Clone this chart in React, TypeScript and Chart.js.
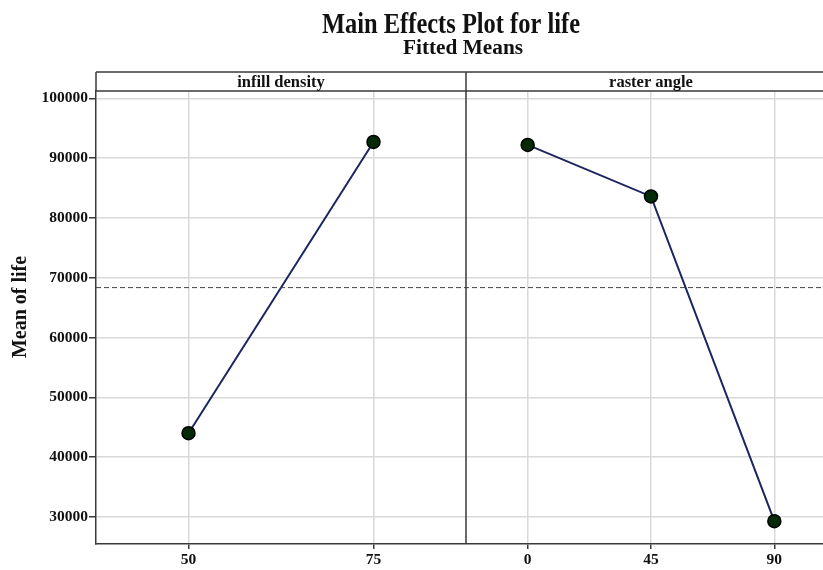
import React, { useEffect, useRef } from "react";
import { Chart, registerables } from "chart.js";

Chart.register(...registerables);

const titleText = "Main Effects Plot for life";
const subtitleText = "Fitted Means";
const yAxisLabel = "Mean of life";
const panelNames = ["infill density", "raster angle"];
const infillLevels = ["50", "75"];
const infillMeans = [44000, 92700];
const rasterLevels = ["0", "45", "90"];
const rasterMeans = [92200, 83600, 29300];
const overallMean = 68350;
const yTicks = [30000, 40000, 50000, 60000, 70000, 80000, 90000, 100000];
const yMin = 25480;
const yMax = 101220;

const FONT = "'Liberation Serif', 'Times New Roman', serif";
const LINE_COLOR = "#1c2560";
const POINT_FILL = "#042a08";
const FRAME = "#3a3a3a";

// position of level i (of n) inside panel p, panels are unit-wide
const pos = (p: number, i: number, n: number) => p + (i + 0.5) / n;

const levelGroups = [infillLevels, rasterLevels];
const tickPositions = levelGroups.flatMap((g, p) => g.map((_, i) => pos(p, i, g.length)));
const tickLabels = levelGroups.flat();

function fitText(ctx: CanvasRenderingContext2D, text: string, cx: number, y: number, width: number) {
  const w = ctx.measureText(text).width;
  ctx.save();
  ctx.translate(cx, y);
  ctx.scale(width / w, 1);
  ctx.fillText(text, 0, 0);
  ctx.restore();
}

const panelPlugin = {
  id: "panelDecor",
  afterDraw(chart: any) {
    const { ctx, chartArea } = chart;
    const xs = chart.scales.x;
    const left = chartArea.left;
    const right = chartArea.right;
    const top = chartArea.top;
    const bottom = chartArea.bottom;
    const headerTop = top - 19;
    ctx.save();
    ctx.strokeStyle = FRAME;
    ctx.lineWidth = 1.5;
    ctx.beginPath();
    ctx.moveTo(left, headerTop);
    ctx.lineTo(right, headerTop);
    ctx.moveTo(left, top);
    ctx.lineTo(right, top);
    ctx.moveTo(left, headerTop);
    ctx.lineTo(left, top);
    const divX = xs.getPixelForValue(1);
    ctx.moveTo(divX, headerTop);
    ctx.lineTo(divX, bottom);
    ctx.stroke();

    ctx.fillStyle = "#111";
    ctx.textAlign = "center";
    ctx.textBaseline = "alphabetic";
    ctx.font = `bold 16.5px ${FONT}`;
    panelNames.forEach((name, p) => {
      const cx = (xs.getPixelForValue(p) + xs.getPixelForValue(p + 1)) / 2;
      ctx.fillText(name, cx, top - 4.5);
    });

    ctx.font = `bold 29px ${FONT}`;
    fitText(ctx, titleText, 451, 33, 258);
    ctx.font = `bold 20px ${FONT}`;
    fitText(ctx, subtitleText, 463, 54, 120);

    ctx.translate(21, 307);
    ctx.rotate(-Math.PI / 2);
    ctx.textBaseline = "middle";
    ctx.font = `bold 20px ${FONT}`;
    ctx.fillText(yAxisLabel, 0, 0);
    ctx.restore();
  },
};

export default function App() {
  const ref = useRef<HTMLCanvasElement | null>(null);
  useEffect(() => {
    if (!ref.current) return;
    const pointStyle = {
      pointRadius: 6.5,
      pointHoverRadius: 6.5,
      pointBackgroundColor: POINT_FILL,
      pointBorderColor: "#000",
      pointBorderWidth: 1.5,
      borderColor: LINE_COLOR,
      borderWidth: 2,
      showLine: true,
    };
    const chart = new Chart(ref.current, {
      type: "scatter",
      data: {
        datasets: [
          {
            label: "mean",
            data: [
              { x: 0, y: overallMean },
              { x: 2, y: overallMean },
            ],
            showLine: true,
            borderColor: "#444",
            borderWidth: 1,
            borderDash: [5, 3],
            pointRadius: 0,
          },
          {
            label: panelNames[0],
            data: infillLevels.map((_, i) => ({ x: pos(0, i, infillLevels.length), y: infillMeans[i] })),
            ...pointStyle,
          },
          {
            label: panelNames[1],
            data: rasterLevels.map((_, i) => ({ x: pos(1, i, rasterLevels.length), y: rasterMeans[i] })),
            ...pointStyle,
          },
        ],
      },
      options: {
        responsive: false,
        animation: false,
        events: [],
        layout: { padding: { top: 91, right: 4, left: 0, bottom: 0 } },
        plugins: {
          legend: { display: false },
          tooltip: { enabled: false },
          title: { display: false },
        },
        scales: {
          x: {
            type: "linear",
            min: 0,
            max: 2,
            afterBuildTicks: (axis: any) => {
              axis.ticks = tickPositions.map((v) => ({ value: v }));
            },
            afterFit: (scale: any) => {
              scale.height = 26;
            },
            ticks: {
              autoSkip: false,
              maxRotation: 0,
              padding: 2,
              color: "#111",
              font: { family: FONT, size: 15.5, weight: "bold" },
              callback: (_v: any, i: number) => tickLabels[i],
            },
            grid: { color: "#d9d9d9", lineWidth: 1.5, tickColor: FRAME, tickLength: 5 },
            border: { color: FRAME, width: 1.5 },
          },
          y: {
            type: "linear",
            min: yMin,
            max: yMax,
            afterBuildTicks: (axis: any) => {
              axis.ticks = yTicks.map((v) => ({ value: v }));
            },
            afterFit: (scale: any) => {
              scale.width = 96;
            },
            ticks: {
              padding: 1,
              color: "#111",
              font: { family: FONT, size: 15.5, weight: "bold" },
              callback: (v: any) => String(v),
            },
            grid: { color: "#d9d9d9", lineWidth: 1.5, tickColor: FRAME, tickLength: 7 },
            border: { color: FRAME, width: 1.5 },
          },
        },
      },
      plugins: [panelPlugin],
    } as any);
    return () => chart.destroy();
  }, []);
  return (
    <div style={{ position: "absolute", left: 0, top: 0, width: 823, height: 570, overflow: "hidden", background: "#fff" }}>
      <canvas ref={ref} width={844} height={570} style={{ width: 844, height: 570, display: "block" }} />
    </div>
  );
}
